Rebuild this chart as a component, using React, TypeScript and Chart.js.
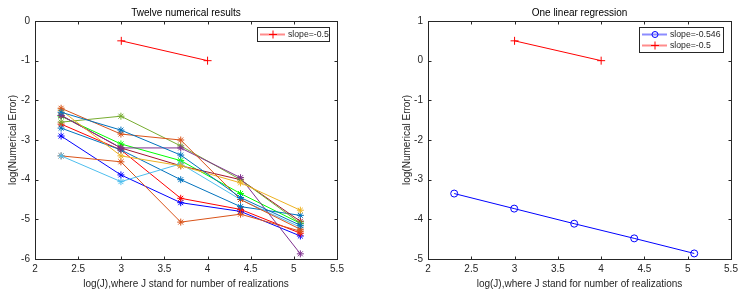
import React, { useEffect, useRef } from "react";
import { Chart, registerables } from "chart.js";

Chart.register(...registerables);

// ---- data ----
const logJ = [2.3026, 2.9957, 3.6889, 4.382, 5.0752];

const run1 = [-2.3, -2.75, -3.38, -4.45, -5.15];
const run2 = [-2.2, -2.85, -3.0, -4.5, -5.25];
const run3 = [-2.25, -3.4, -3.65, -4.08, -4.77];
const run4 = [-2.38, -3.2, -3.2, -3.95, -5.87];
const run5 = [-2.55, -2.4, -3.15, -4.0, -5.1];
const run6 = [-3.4, -4.05, -3.6, -4.5, -5.2];
const run7 = [-2.38, -3.2, -3.65, -4.0, -5.05];
const run8 = [-2.7, -3.25, -4.0, -4.68, -4.9];
const run9 = [-3.4, -3.55, -5.07, -4.87, -5.3];
const run10 = [-2.6, -3.25, -4.47, -4.75, -5.35];
const run11 = [-2.9, -3.88, -4.58, -4.8, -5.42];
const run12 = [-2.4, -3.1, -3.52, -4.35, -5.1];

const runs = [run1, run2, run3, run4, run5, run6, run7, run8, run9, run10, run11, run12];
const runColors = [
  "#0072BD", "#D95319", "#EDB120", "#7E2F8E", "#77AC30", "#4DBEEE",
  "#A2142F", "#0072BD", "#D95319", "#FF0000", "#0000FF", "#00FF00",
];

const refX = [3, 4];
const refYLeft = [-0.5, -1];
const refYRight = [0.5, 0];
const regY = [-3.35, -3.73, -4.11, -4.48, -4.86];

const leftTitle = "Twelve numerical results";
const rightTitle = "One linear regression";
const xTitle = "log(J),where J stand for number of realizations";
const yTitle = "log(Numerical Error)";
const refLabel = "slope=-0.5";
const regLabel = "slope=-0.546";

const FONT = '"Liberation Sans", Arial, Helvetica, sans-serif';
const AXIS = "#262626";

type LegendItem = { label: string; color: string; style: "cross" | "circle" };

function drawMarker(ctx: CanvasRenderingContext2D, style: string, x: number, y: number, r: number) {
  ctx.beginPath();
  if (style === "circle") {
    ctx.arc(x, y, r, 0, Math.PI * 2);
  } else {
    ctx.moveTo(x - r, y);
    ctx.lineTo(x + r, y);
    ctx.moveTo(x, y - r);
    ctx.lineTo(x, y + r);
  }
  ctx.stroke();
}

function makeFramePlugin(title: string, yTitleX: number, legend: LegendItem[], legendW: number) {
  return {
    id: "frame" + title.length,
    afterDraw(chart: any) {
      const { ctx, chartArea: a, scales } = chart;
      ctx.save();
      ctx.strokeStyle = AXIS;
      ctx.lineWidth = 1;
      const L = Math.round(a.left) + 0.5;
      const R = Math.round(a.right) + 0.5;
      const T = Math.round(a.top) + 0.5;
      const B = Math.round(a.bottom) + 0.5;
      ctx.strokeRect(L, T, R - L, B - T);
      const tl = 3;
      ctx.beginPath();
      scales.x.ticks.forEach((t: any) => {
        const px = Math.round(scales.x.getPixelForValue(t.value)) + 0.5;
        ctx.moveTo(px, B);
        ctx.lineTo(px, B - tl);
        ctx.moveTo(px, T);
        ctx.lineTo(px, T + tl);
      });
      scales.y.ticks.forEach((t: any) => {
        const py = Math.round(scales.y.getPixelForValue(t.value)) + 0.5;
        ctx.moveTo(L, py);
        ctx.lineTo(L + tl, py);
        ctx.moveTo(R, py);
        ctx.lineTo(R - tl, py);
      });
      ctx.stroke();

      // titles
      ctx.fillStyle = "#000";
      ctx.font = `10px ${FONT}`;
      ctx.textAlign = "center";
      ctx.textBaseline = "middle";
      ctx.fillText(title, (a.left + a.right) / 2, 13);
      ctx.fillStyle = AXIS;
      ctx.fillText(xTitle, (a.left + a.right) / 2, 284);
      ctx.save();
      ctx.translate(yTitleX, (a.top + a.bottom) / 2);
      ctx.rotate(-Math.PI / 2);
      ctx.fillText(yTitle, 0, 0);
      ctx.restore();

      // legend
      const rowH = 11;
      const bw = legendW;
      const bh = legend.length * rowH + 3;
      const bx = Math.round(a.right) - 8 - bw;
      const by = Math.round(a.top) + 6;
      ctx.fillStyle = "#fff";
      ctx.fillRect(bx + 0.5, by + 0.5, bw, bh);
      ctx.strokeStyle = "#262626";
      ctx.strokeRect(bx + 0.5, by + 0.5, bw, bh);
      legend.forEach((it, i) => {
        const cy = by + 2 + rowH * i + rowH / 2;
        ctx.strokeStyle = it.color;
        ctx.globalAlpha = 0.45;
        ctx.lineWidth = 2;
        ctx.beginPath();
        ctx.moveTo(bx + 3, cy);
        ctx.lineTo(bx + 28, cy);
        ctx.stroke();
        ctx.globalAlpha = 1;
        ctx.lineWidth = 1;
        drawMarker(ctx, it.style, bx + 16, cy, it.style === "circle" ? 3 : 4);
        ctx.fillStyle = AXIS;
        ctx.font = `8.7px ${FONT}`;
        ctx.textAlign = "left";
        ctx.textBaseline = "middle";
        ctx.fillText(it.label, bx + 31, cy + 0.5);
      });
      ctx.restore();
    },
  };
}

function pts(ys: number[], xs: number[]) {
  return ys.map((y, i) => ({ x: xs[i], y }));
}

function baseOptions(yMin: number, yMax: number, yWidth: number, rightPad: number) {
  return {
    responsive: false,
    animation: false as const,
    events: [],
    layout: { padding: { top: 21, right: rightPad, left: 0, bottom: 0 } },
    plugins: { legend: { display: false }, tooltip: { enabled: false }, title: { display: false } },
    scales: {
      x: {
        type: "linear" as const,
        min: 2,
        max: 5.5,
        grid: { display: false, drawTicks: false },
        border: { display: false },
        ticks: {
          stepSize: 0.5,
          color: AXIS,
          font: { size: 10, family: FONT },
          padding: 4,
          maxRotation: 0,
          autoSkip: false,
          callback: (v: any) => String(Math.round(Number(v) * 10) / 10),
        },
        afterFit: (s: any) => { s.height = 37; },
      },
      y: {
        type: "linear" as const,
        min: yMin,
        max: yMax,
        grid: { display: false, drawTicks: false },
        border: { display: false },
        ticks: {
          stepSize: 1,
          color: AXIS,
          font: { size: 10, family: FONT },
          padding: 5,
          callback: (v: any) => String(Math.round(Number(v))),
        },
        afterFit: (s: any) => { s.width = yWidth; },
      },
    },
  };
}

function LeftChart() {
  const ref = useRef<HTMLCanvasElement>(null);
  useEffect(() => {
    const datasets: any[] = runs.map((r, i) => ({
      data: pts(r, logJ),
      showLine: true,
      borderColor: runColors[i],
      backgroundColor: runColors[i],
      borderWidth: 1,
      pointStyle: "star",
      pointRadius: 3.5,
      pointBorderWidth: 1,
      pointBorderColor: runColors[i],
    }));
    datasets.push({
      data: pts(refYLeft, refX),
      showLine: true,
      borderColor: "#FF0000",
      borderWidth: 1,
      pointStyle: "cross",
      pointRadius: 4,
      pointBorderWidth: 1,
      pointBorderColor: "#FF0000",
    });
    const chart = new Chart(ref.current!, {
      type: "scatter",
      data: { datasets },
      options: baseOptions(-6, 0, 35, 35) as any,
      plugins: [makeFramePlugin(leftTitle, 13, [{ label: refLabel, color: "#FF0000", style: "cross" }], 72)],
    });
    return () => chart.destroy();
  }, []);
  return <canvas ref={ref} width={372} height={296} style={{ position: "absolute", left: 0, top: 0 }} />;
}

function RightChart() {
  const ref = useRef<HTMLCanvasElement>(null);
  useEffect(() => {
    const datasets: any[] = [
      {
        data: pts(regY, logJ),
        showLine: true,
        borderColor: "#0000FF",
        backgroundColor: "rgba(0,0,0,0)",
        borderWidth: 1,
        pointStyle: "circle",
        pointRadius: 3.5,
        pointBorderWidth: 1,
        pointBorderColor: "#0000FF",
      },
      {
        data: pts(refYRight, refX),
        showLine: true,
        borderColor: "#FF0000",
        borderWidth: 1,
        pointStyle: "cross",
        pointRadius: 4,
        pointBorderWidth: 1,
        pointBorderColor: "#FF0000",
      },
    ];
    const chart = new Chart(ref.current!, {
      type: "scatter",
      data: { datasets },
      options: baseOptions(-5, 1, 56, 13) as any,
      plugins: [
        makeFramePlugin(rightTitle, 35, [
          { label: regLabel, color: "#0000FF", style: "circle" },
          { label: refLabel, color: "#FF0000", style: "cross" },
        ], 84),
      ],
    });
    return () => chart.destroy();
  }, []);
  return <canvas ref={ref} width={372} height={296} style={{ position: "absolute", left: 372, top: 0 }} />;
}

export default function App() {
  return (
    <div style={{ position: "absolute", left: 0, top: 0, width: 744, height: 296, background: "#fff" }}>
      <LeftChart />
      <RightChart />
    </div>
  );
}
